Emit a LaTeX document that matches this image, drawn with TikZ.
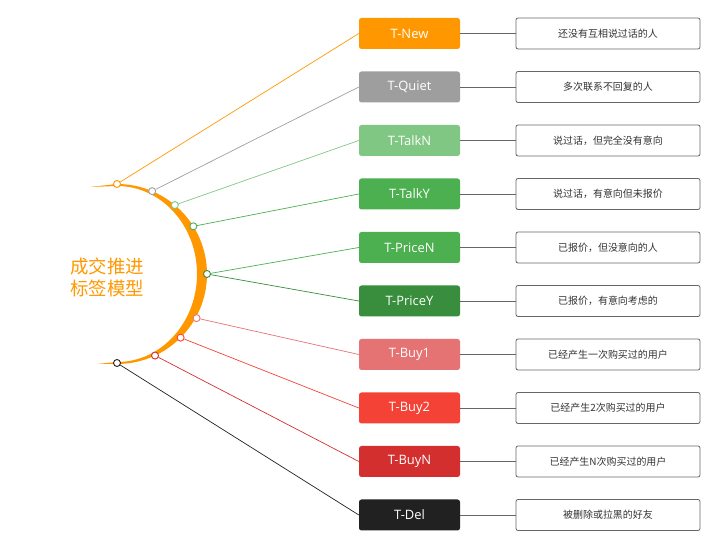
\documentclass[tikz,border=0pt]{standalone}
\usepackage{fontspec}
\setmainfont{Noto Sans CJK SC}
\newfontfamily\tagfont{Open Sans}
\usepackage{tikz}
\usetikzlibrary{shapes}

\definecolor{cNew}{HTML}{FF9800}
\definecolor{cQuiet}{HTML}{9E9E9E}
\definecolor{cTalkN}{HTML}{81C784}
\definecolor{cTalkY}{HTML}{4CAF50}
\definecolor{cPriceN}{HTML}{4CAF50}
\definecolor{cPriceY}{HTML}{388E3C}
\definecolor{cBuyA}{HTML}{E57373}
\definecolor{cBuyB}{HTML}{F44336}
\definecolor{cBuyN}{HTML}{D32F2F}
\definecolor{cDel}{HTML}{212121}
\definecolor{cText}{HTML}{333333}
\definecolor{cFrame}{HTML}{666666}

\tikzset{
  tag/.style={rectangle, rounded corners=2.5bp, fill=#1, text=white,
    minimum width=101bp, minimum height=31bp, inner sep=0pt,
    font=\tagfont\fontsize{13}{15}\selectfont},
  desc/.style={rectangle, rounded corners=2bp, draw=cFrame, fill=white,
    line width=0.8bp, text=cText, minimum width=184bp, minimum height=31bp,
    inner sep=0pt, font=\fontsize{10}{12}\selectfont},
  dot/.style={circle, draw=#1, fill=white, line width=0.9bp,
    minimum size=7bp, inner sep=0pt},
  link/.style={draw=#1, line width=0.7bp},
  bar/.style={draw=cFrame, line width=0.9bp}
}

\begin{document}
\begin{tikzpicture}[x=1bp, y=1bp]

  \newcommand\XT{409.5}
  \newcommand\XD{608}
  \newcommand\Y{53.5}

  \useasboundingbox (0,0) rectangle (719,550);

  %% crescent
  \fill[cNew] (90,363) -- (117,366) arc[start angle=90, end angle=-90, radius=90]
    -- (97,186) -- (117,188) arc[start angle=-90, end angle=90, x radius=80, y radius=88]
    -- cycle;
  \node[text=cNew, align=center, font=\fontsize{18.5}{22}\selectfont] (title) at (107,273) {成交推进\\标签模型};

  %% tags
  \node[tag=cNew]    (tNew)    at (\XT, 516.5-0*\Y) {T-New};
  \node[tag=cQuiet]  (tQuiet)  at (\XT, 516.5-1*\Y) {T-Quiet};
  \node[tag=cTalkN]  (tTalkN)  at (\XT, 516.5-2*\Y) {T-TalkN};
  \node[tag=cTalkY]  (tTalkY)  at (\XT, 516.5-3*\Y) {T-TalkY};
  \node[tag=cPriceN] (tPriceN) at (\XT, 516.5-4*\Y) {T-PriceN};
  \node[tag=cPriceY] (tPriceY) at (\XT, 516.5-5*\Y) {T-PriceY};
  \node[tag=cBuyA]   (tBuyA)   at (\XT, 516.5-6*\Y) {T-Buy1};
  \node[tag=cBuyB]   (tBuyB)   at (\XT, 516.5-7*\Y) {T-Buy2};
  \node[tag=cBuyN]   (tBuyN)   at (\XT, 516.5-8*\Y) {T-BuyN};
  \node[tag=cDel]    (tDel)    at (\XT, 516.5-9*\Y) {T-Del};

  %% descriptions
  \node[desc] (dNew)    at (\XD, 516.5-0*\Y) {还没有互相说过话的人};
  \node[desc] (dQuiet)  at (\XD, 516.5-1*\Y) {多次联系不回复的人};
  \node[desc] (dTalkN)  at (\XD, 516.5-2*\Y) {说过话，但完全没有意向};
  \node[desc] (dTalkY)  at (\XD, 516.5-3*\Y) {说过话，有意向但未报价};
  \node[desc] (dPriceN) at (\XD, 516.5-4*\Y) {已报价，但没意向的人};
  \node[desc] (dPriceY) at (\XD, 516.5-5*\Y) {已报价，有意向考虑的};
  \node[desc] (dBuyA)   at (\XD, 516.5-6*\Y) {已经产生一次购买过的用户};
  \node[desc] (dBuyB)   at (\XD, 516.5-7*\Y) {已经产生2次购买过的用户};
  \node[desc] (dBuyN)   at (\XD, 516.5-8*\Y) {已经产生N次购买过的用户};
  \node[desc] (dDel)    at (\XD, 516.5-9*\Y) {被删除或拉黑的好友};

  \draw[bar] (tNew) -- (dNew);     %% New
  \draw[bar] (tQuiet) -- (dQuiet);
  \draw[bar] (tTalkN) -- (dTalkN);
  \draw[bar] (tTalkY) -- (dTalkY);
  \draw[bar] (tPriceN) -- (dPriceN);
  \draw[bar] (tPriceY) -- (dPriceY);
  \draw[bar] (tBuyA) -- (dBuyA);
  \draw[bar] (tBuyB) -- (dBuyB);
  \draw[bar] (tBuyN) -- (dBuyN);
  \draw[bar] (tDel) -- (dDel);     %% Del

  %% dots on the crescent
  \path (117,276) ++(90:90)  node[dot=cNew]    (pNew) {};
  \path (117,276) ++(67:90)  node[dot=cQuiet]  (pQuiet) {};
  \path (117,276) ++(50:90)  node[dot=cTalkN]  (pTalkN) {};
  \path (117,276) ++(32:90)  node[dot=cTalkY]  (pTalkY) {};
  \path (117,276) ++(0:90)   node[dot=cPriceY] (pPrice) {};
  \path (117,276) ++(-29:91) node[dot=cBuyA]   (pBuyA) {};
  \path (117,276) ++(-45:90) node[dot=cBuyB]   (pBuyB) {};
  \path (117,276) ++(-65:90) node[dot=cBuyN]   (pBuyN) {};
  \path (117,276) ++(-90:89) node[dot=cDel]    (pDel) {};

  \draw[link=cNew]    (pNew) -- (tNew.west);
  \draw[link=cQuiet]  (pQuiet) -- (tQuiet.west);
  \draw[link=cTalkN]  (pTalkN) -- (tTalkN.west);
  \draw[link=cTalkY]  (pTalkY) -- (tTalkY.west);
  \draw[link=cPriceN] (pPrice) -- (tPriceN.west);
  \draw[link=cPriceY] (pPrice) -- (tPriceY.west);
  \draw[link=cBuyA]   (pBuyA) -- (tBuyA.west);
  \draw[link=cBuyB]   (pBuyB) -- (tBuyB.west);
  \draw[link=cBuyN]   (pBuyN) -- (tBuyN.west);
  \draw[link=cDel]    (pDel) -- (tDel.west);

\end{tikzpicture}
\end{document}
